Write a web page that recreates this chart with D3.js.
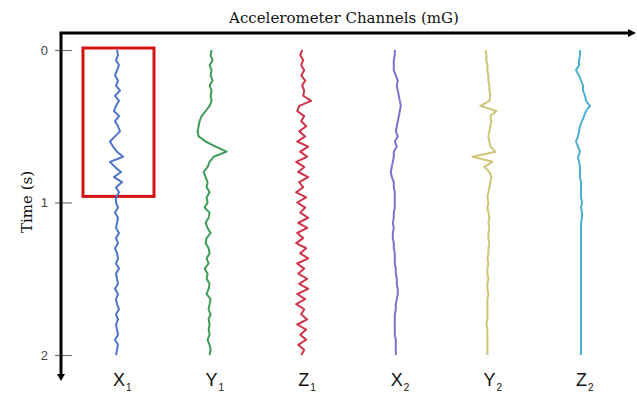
<!DOCTYPE html>
<html><head><meta charset="utf-8">
<script src="https://cdn.jsdelivr.net/npm/d3@7"></script>
<style>html,body{margin:0;padding:0;background:#fff;}svg{display:block;}</style>
</head><body>
<svg id="chart" width="637" height="393"></svg>
<script>
// ---- data ----
const channels = ["X1", "Y1", "Z1", "X2", "Y2", "Z2"];
const channelLetters = ["X", "Y", "Z", "X", "Y", "Z"];
const channelSubs = ["1", "1", "1", "2", "2", "2"];
const channelColors = ["#4f74c9", "#3f9c58", "#cf3548", "#7b74cc", "#cdc677", "#4bb0d0"];
const timeTicks = [0, 1, 2];
const sampleCount = 61;           // samples at 1/30 s from 0 to 2 s
const sampleStep = 1 / 30;
// offsets from channel baseline (mG)
const x1 = [0,1,-1,2,0,-2,1,-1,3,-2,2,-1,-3,2,-2,1,3,-2,-7,-4,0,6,-7,-2,4,-3,5,-1,2,-1,
            -1,1,-2,1,0,-1,2,-1,1,-2,0,1,-1,2,-1,0,1,-2,1,-1,0,2,-1,1,-1,0,1,-2,1,0,-1];
const y1 = [2,1,3,0,2,1,3,0,2,1,2,0,-4,-8,-10,-11,-12,-11,-4,6,17,4,0,-2,-6,-4,-2,-3,0,-3,
            -2,-5,0,-1,-4,-2,1,-3,-4,-1,0,-3,-1,-5,-2,-3,0,-1,-3,1,0,-1,1,-1,0,-1,0,-2,0,1,0];
const z1 = [0,-2,1,-1,2,-1,3,0,2,1,9,-3,-5,2,-1,4,-3,3,-5,6,-2,5,-6,2,-4,6,-3,1,-6,4,
            -5,3,-2,6,-4,5,-5,1,-6,4,-2,6,-5,2,-4,5,-3,6,-5,3,-6,2,-1,5,-5,4,-2,4,-4,2,-1];
const x2 = [0,0,-1,-1,-1,1,3,2,3,4,5,6,5,4,3,2,1,3,0,2,-1,-1,-2,-3,-4,-3,-1,-1,0,0,
            0,0,-1,-1,-2,-1,-2,-2,-1,-1,0,0,0,1,1,2,2,3,3,2,1,1,0,0,0,0,0,1,1,1,1];
const y2 = [-2,-1,-1,0,0,1,1,2,2,3,2,-7,9,3,4,3,2,1,2,3,8,-15,5,-3,2,4,3,2,1,0,
            1,0,1,2,1,2,1,1,2,1,1,0,1,0,0,1,0,0,1,0,0,0,0,0,-1,0,0,0,0,0,0];
const z2 = [0,0,-1,-1,-4,-1,1,3,3,5,6,10,6,4,2,0,-1,-2,-4,-2,0,-2,-1,0,0,0,1,1,1,1,
            2,1,2,2,1,1,1,1,1,1,1,1,1,1,1,1,1,1,1,1,1,1,1,1,1,1,1,1,1,1,1];
const seriesValues = [x1, y1, z1, x2, y2, z2];
const highlightChannel = "X1";
const highlightT0 = -0.013, highlightT1 = 0.96;
const titleText = "Accelerometer Channels (mG)";
const yTitle = "Time (s)";

// ---- layout ----
const svg = d3.select("#chart");
const axisX = 61, axisTop = 33, axisBottom = 376, axisRight = 630;
const xPos = d3.scalePoint().domain(channels).range([117, 580]);
const y = d3.scaleLinear().domain([0, 2]).range([50, 355]);
const amp = d3.scaleLinear().domain([-20, 20]).range([-20, 20]);
const times = d3.range(sampleCount).map(i => i * sampleStep);

// highlight rectangle
const hx = xPos(highlightChannel);
svg.append("rect")
  .attr("x", hx - 34).attr("y", y(highlightT0))
  .attr("width", 71).attr("height", y(highlightT1) - y(highlightT0))
  .attr("fill", "none").attr("stroke", "#d41414").attr("stroke-width", 3);

// traces
channels.forEach((ch, k) => {
  const vals = seriesValues[k];
  const line = d3.line()
    .x((d, i) => xPos(ch) + amp(d))
    .y((d, i) => y(times[i]));
  svg.append("path").datum(vals)
    .attr("d", line)
    .attr("fill", "none")
    .attr("stroke", channelColors[k])
    .attr("stroke-width", 2)
    .attr("stroke-linejoin", "round");
});

// y axis ticks
const yAxis = d3.axisLeft(y).tickValues(timeTicks).tickFormat(d3.format("d")).tickSize(6);
const gy = svg.append("g").attr("transform", `translate(${axisX},0)`).call(yAxis);
gy.select(".domain").remove();
gy.selectAll(".tick line").attr("x1", -6).attr("x2", 11).attr("stroke", "#777").attr("stroke-width", 1.2);
gy.selectAll(".tick text").attr("x", -13).attr("fill", "#444")
  .style("font-family", "Liberation Sans, Arial, sans-serif").style("font-size", "13px");

// axis lines with arrows
svg.append("line").attr("x1", axisX).attr("y1", axisTop).attr("x2", axisX).attr("y2", axisBottom)
  .attr("stroke", "#000").attr("stroke-width", 3);
svg.append("line").attr("x1", axisX - 1.5).attr("y1", axisTop).attr("x2", axisRight).attr("y2", axisTop)
  .attr("stroke", "#000").attr("stroke-width", 3);
svg.append("path").attr("d", `M${axisX - 4},${axisBottom - 2} L${axisX + 4},${axisBottom - 2} L${axisX},${axisBottom + 5} Z`).attr("fill", "#000");
svg.append("path").attr("d", `M${axisRight - 2},${axisTop - 4} L${axisRight - 2},${axisTop + 4} L${axisRight + 6},${axisTop} Z`).attr("fill", "#000");

// titles
svg.append("text").attr("x", 344).attr("y", 23).attr("text-anchor", "middle")
  .style("font-family", "DejaVu Serif, serif").style("font-size", "15px").attr("fill", "#111")
  .text(titleText);
svg.append("text").attr("transform", "translate(32,202) rotate(-90)").attr("text-anchor", "middle")
  .style("font-family", "DejaVu Serif, serif").style("font-size", "15px").attr("fill", "#111")
  .text(yTitle);

// channel labels
channels.forEach((ch, k) => {
  const t = svg.append("text").attr("x", xPos(ch) - 4).attr("y", 386)
    .style("font-family", "Liberation Sans, Arial, sans-serif").style("font-size", "18px").attr("fill", "#111");
  t.append("tspan").text(channelLetters[k]);
  t.append("tspan").attr("dy", 5).attr("dx", 1).style("font-size", "10px").text(channelSubs[k]);
});
</script>
</body></html>
